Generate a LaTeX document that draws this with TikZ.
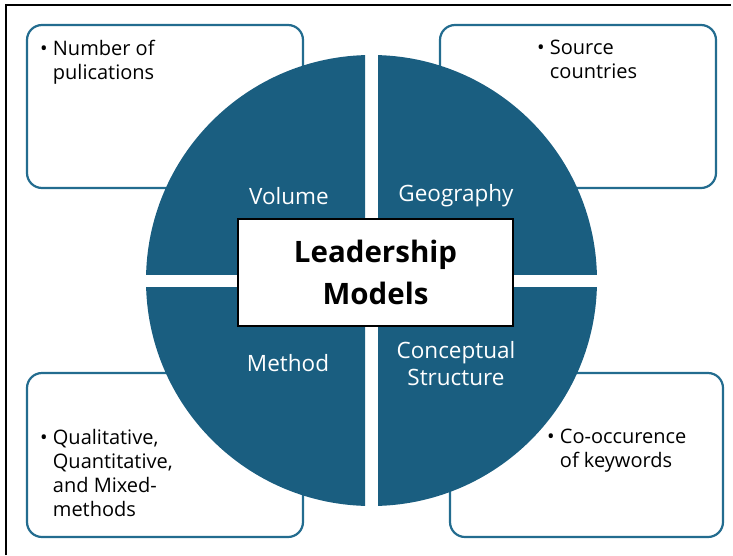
\documentclass[tikz,border=0pt]{standalone}
\usepackage{fontspec}
\setmainfont{Open Sans}
\definecolor{wheel}{HTML}{1A5E80}
\definecolor{rim}{HTML}{236C8F}
\begin{document}
\begin{tikzpicture}[x=1pt,y=-1pt,
  infobox/.style={draw=rim, line width=2.2pt, rounded corners=15pt, fill=white, inner sep=0pt},
  sector/.style={text=white, font=\fontsize{22.5}{27}\selectfont, align=center},
  bullets/.style={font=\fontsize{20}{24}\selectfont, align=left, anchor=north west, inner sep=0pt},
  hub/.style={draw=black, line width=1.2pt, fill=white, minimum width=275pt, minimum height=107pt,
    font=\bfseries\fontsize{29.5}{42}\selectfont, align=center}]
\useasboundingbox (0,0) rectangle (733,555);
% page frame
\draw[line width=2pt] (6,555) -- (6,5) -- (731,5);

% outer info boxes, behind the wheel
\node[infobox, minimum width=276pt, minimum height=163pt] (boxvol) at (165,106.5) {};
\node[infobox, minimum width=276pt, minimum height=163pt] (boxgeo) at (578,106.5) {};
\node[infobox, minimum width=276pt, minimum height=164pt] (boxmeth) at (165,455) {};
\node[infobox, minimum width=273pt, minimum height=164pt] (boxconc) at (586.5,455) {};

% four quarters of the wheel, split by white gaps
\begin{scope}
  \clip (0,0) rectangle (365,274);
  \fill[wheel] (371.5,280.5) circle[radius=225.5pt];
\end{scope}
\begin{scope}
  \clip (378,0) rectangle (733,274);
  \fill[wheel] (371.5,280.5) circle[radius=225.5pt];
\end{scope}
\begin{scope}
  \clip (0,287) rectangle (365,555);
  \fill[wheel] (371.5,280.5) circle[radius=225.5pt];
\end{scope}
\begin{scope}
  \clip (378,287) rectangle (733,555);
  \fill[wheel] (371.5,280.5) circle[radius=225.5pt];
\end{scope}

% quarter labels
\node[sector] (vol) at (289,196) {Volume};
\node[sector] (geo) at (456,196) {Geography};
\node[sector] (meth) at (288,363) {Method};
\node[sector] (conc) at (456,364) {Conceptual\\Structure};

% central title
\node[hub] (core) at (375.5,272.5) {Leadership\\Models};

% bullet texts
\node[bullets] (tvol) at (40,40) {\textbullet\ Number of\\\phantom{\textbullet\ }pulications};
\node[bullets] (tgeo) at (537,40) {\textbullet\ Source\\\phantom{\textbullet\ }countries};
\node[bullets] (tmeth) at (40,429) {\textbullet\ Qualitative,\\\phantom{\textbullet\ }Quantitative,\\\phantom{\textbullet\ }and Mixed-\\\phantom{\textbullet\ }methods};
\node[bullets] (tconc) at (547,429) {\textbullet\ Co-occurence\\\phantom{\textbullet\ }of keywords};
\end{tikzpicture}
\end{document}
